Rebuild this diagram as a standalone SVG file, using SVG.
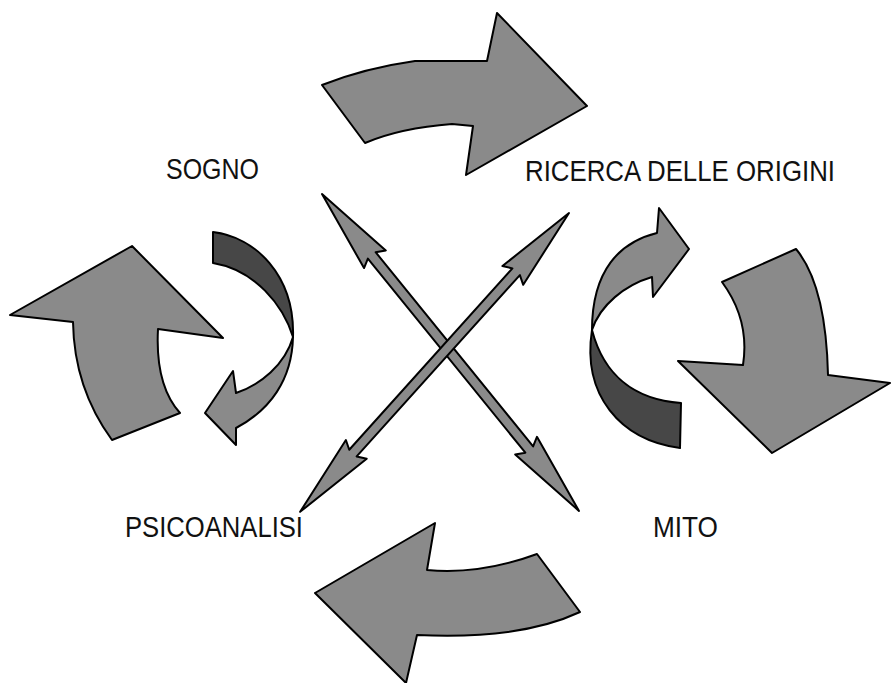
<svg xmlns="http://www.w3.org/2000/svg" width="891" height="683" viewBox="0 0 891 683">
<style>
.lt{fill:#8a8a8a;stroke:#000;stroke-width:2;stroke-linejoin:round}
.dk{fill:#474747;stroke:#000;stroke-width:2;stroke-linejoin:round}
.lbl{font-family:"Liberation Sans",Arial,sans-serif;font-size:29px;fill:#111}
</style>
<rect width="891" height="683" fill="#fff"/>
<g id="arrow-top"><path class="lt" d="M322,85 Q365,68 415,61 L487,61 L497,13 L587,106 L466,175 L473,126 L452,124 Q400,128 365,143 Z"/></g>
<g id="arrow-right"><path class="lt" d="M722,282 L796,249 Q826,285 828,375 L890,383 L772,453 L678,361 L743,365 Q750,320 722,282 Z"/></g>
<g id="arrow-bottom"><path class="lt" d="M435,523 L427,570 Q480,575 537,554 L580,612 Q520,640 417,635 L406,683 L315,593 Z"/></g>
<g id="arrow-left"><path class="lt" d="M10,315 L132,246 L223,338 L158,329 Q155,385 180,413 L112,440 Q74,388 73,322 Z"/></g>
<g id="cycle-left">
<path class="dk" d="M213,232 C255,237 295,275 293,337 C283,305 255,270 213,263 Z"/>
<path class="lt" d="M293,337 C292,380 270,410 236,428 L236,445 L205,413 L233,371 L236,393 C260,385 285,365 293,337 Z"/>
</g>
<g id="cycle-right">
<path class="dk" d="M592,330 C582,395 620,440 680,448 L681,403 C640,400 605,380 592,330 Z"/>
<path class="lt" d="M689,249 L659,208 L657,233 C620,242 592,270 592,330 C600,305 625,285 652,277 L653,297 Z"/>
</g>
<g id="connectors">
<g transform="translate(322,194) rotate(50.96)">
<path class="lt" d="M0,0 L84,-14 L79,-5 L329,-5 L324,-14 L408,0 L324,14 L329,5 L79,5 L84,14 Z"/>
</g>
<g transform="translate(569,213) rotate(131.98)">
<path class="lt" d="M0,0 L84,-14 L79,-5 L323,-5 L318,-14 L402,0 L318,14 L323,5 L79,5 L84,14 Z"/>
</g>
</g>
<g id="label-sogno"><text class="lbl" x="166" y="179" textLength="93" lengthAdjust="spacingAndGlyphs">SOGNO</text></g>
<g id="label-ricerca"><text class="lbl" x="525" y="181" textLength="310" lengthAdjust="spacingAndGlyphs">RICERCA DELLE ORIGINI</text></g>
<g id="label-psicoanalisi"><text class="lbl" x="125" y="537" textLength="178" lengthAdjust="spacingAndGlyphs">PSICOANALISI</text></g>
<g id="label-mito"><text class="lbl" x="653" y="537" textLength="65" lengthAdjust="spacingAndGlyphs">MITO</text></g>
</svg>
